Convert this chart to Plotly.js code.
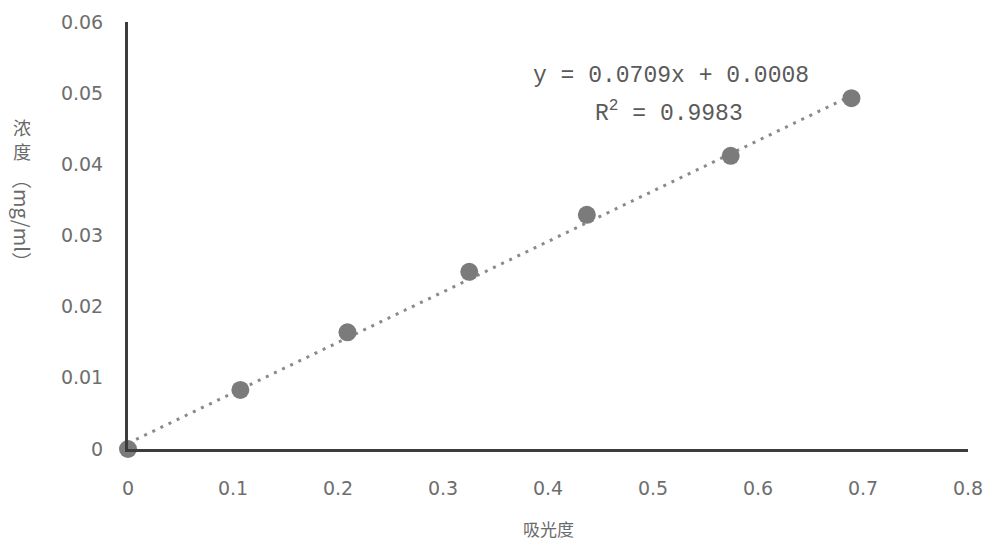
<!DOCTYPE html>
<html>
<head>
<meta charset="utf-8">
<script src="https://cdn.plot.ly/plotly-3.0.1.min.js"></script>
<style>html,body{margin:0;padding:0;background:#fff;}#chart{width:1000px;height:550px;}</style>
</head>
<body>
<div id="chart"></div>
<script>
// Data
var absorbance = [0, 0.107, 0.209, 0.325, 0.437, 0.574, 0.689];
var concentration = [0, 0.0083, 0.0164, 0.0249, 0.0329, 0.0412, 0.0493];
var trendSlope = 0.0709;
var trendIntercept = 0.0008;
var trendR2 = 0.9983;
var xTickVals = [0, 0.1, 0.2, 0.3, 0.4, 0.5, 0.6, 0.7, 0.8];
var xTickText = ['0', '0.1', '0.2', '0.3', '0.4', '0.5', '0.6', '0.7', '0.8'];
var yTickVals = [0, 0.01, 0.02, 0.03, 0.04, 0.05, 0.06];
var yTickText = ['0', '0.01', '0.02', '0.03', '0.04', '0.05', '0.06'];
var xTitle = '吸光度';
var yTitleChars = ['浓', '度'];
var yTitleUnit = '（mg/ml）';

var xEnds = [absorbance[0], absorbance[absorbance.length - 1]];
var trendX = xEnds;
var trendY = xEnds.map(function (v) { return trendSlope * v + trendIntercept; });

var tickFont = {family: 'DejaVu Sans', size: 19, color: '#6e6e6e'};
var textGray = '#6a6a6a';

// pixel helpers for paper coords (plot area: x 128..968, y 22..449)
function px(x) { return (x - 128) / 840; }
function py(y) { return (449 - y) / 427; }

var traces = [
  {
    x: trendX, y: trendY, mode: 'lines', type: 'scatter',
    line: {color: '#8a8a8a', width: 3, dash: '3px,6px'},
    hoverinfo: 'skip', showlegend: false, cliponaxis: false
  },
  {
    x: absorbance, y: concentration, mode: 'markers', type: 'scatter',
    marker: {color: '#7b7b7b', size: 18, line: {width: 0}},
    showlegend: false, cliponaxis: false
  }
];

var annotations = [
  {
    xref: 'paper', yref: 'paper', x: 0.5, y: py(528), xanchor: 'center', yanchor: 'middle',
    text: xTitle, showarrow: false,
    font: {family: 'Noto Sans CJK SC', size: 17, color: textGray}
  },
  {
    xref: 'paper', yref: 'paper', x: px(671), y: py(76), xanchor: 'center', yanchor: 'middle',
    text: 'y = ' + trendSlope.toFixed(4) + 'x + ' + trendIntercept.toFixed(4),
    showarrow: false, font: {family: 'Liberation Mono', size: 23, color: '#5a5a5a'}
  },
  {
    xref: 'paper', yref: 'paper', x: px(669), y: py(112), xanchor: 'center', yanchor: 'middle',
    text: 'R<sup>2</sup> = ' + trendR2.toFixed(4),
    showarrow: false, font: {family: 'Liberation Mono', size: 23, color: '#5a5a5a'}
  }
];

// vertical stacked y title (upright CJK characters + rotated unit)
var yCharPix = [127, 151];
yTitleChars.forEach(function (ch, i) {
  annotations.push({
    xref: 'paper', yref: 'paper', x: px(22), y: py(yCharPix[i]),
    xanchor: 'center', yanchor: 'middle', text: ch, showarrow: false,
    font: {family: 'Noto Sans CJK SC', size: 18, color: textGray}
  });
});
annotations.push({
  xref: 'paper', yref: 'paper', x: px(22), y: py(220),
  xanchor: 'center', yanchor: 'middle', text: yTitleUnit, showarrow: false, textangle: 90,
  font: {family: 'Noto Sans CJK SC', size: 20, color: textGray}
});

var layout = {
  width: 1000, height: 550,
  margin: {l: 128, r: 32, t: 22, b: 101},
  paper_bgcolor: '#ffffff', plot_bgcolor: '#ffffff',
  xaxis: {
    range: [0, 0.8], tickvals: xTickVals, ticktext: xTickText,
    showgrid: false, zeroline: false, showline: true, linecolor: '#3c3c3c', linewidth: 3,
    ticks: '', ticklabelstandoff: 20, tickfont: tickFont, fixedrange: true
  },
  yaxis: {
    range: [0, 0.06], tickvals: yTickVals, ticktext: yTickText,
    showgrid: false, zeroline: false, showline: true, linecolor: '#3c3c3c', linewidth: 3,
    ticks: '', ticklabelstandoff: 18, tickfont: tickFont, fixedrange: true
  },
  annotations: annotations,
  showlegend: false
};

Plotly.newPlot('chart', traces, layout, {displayModeBar: false, staticPlot: true});
</script>
</body>
</html>
